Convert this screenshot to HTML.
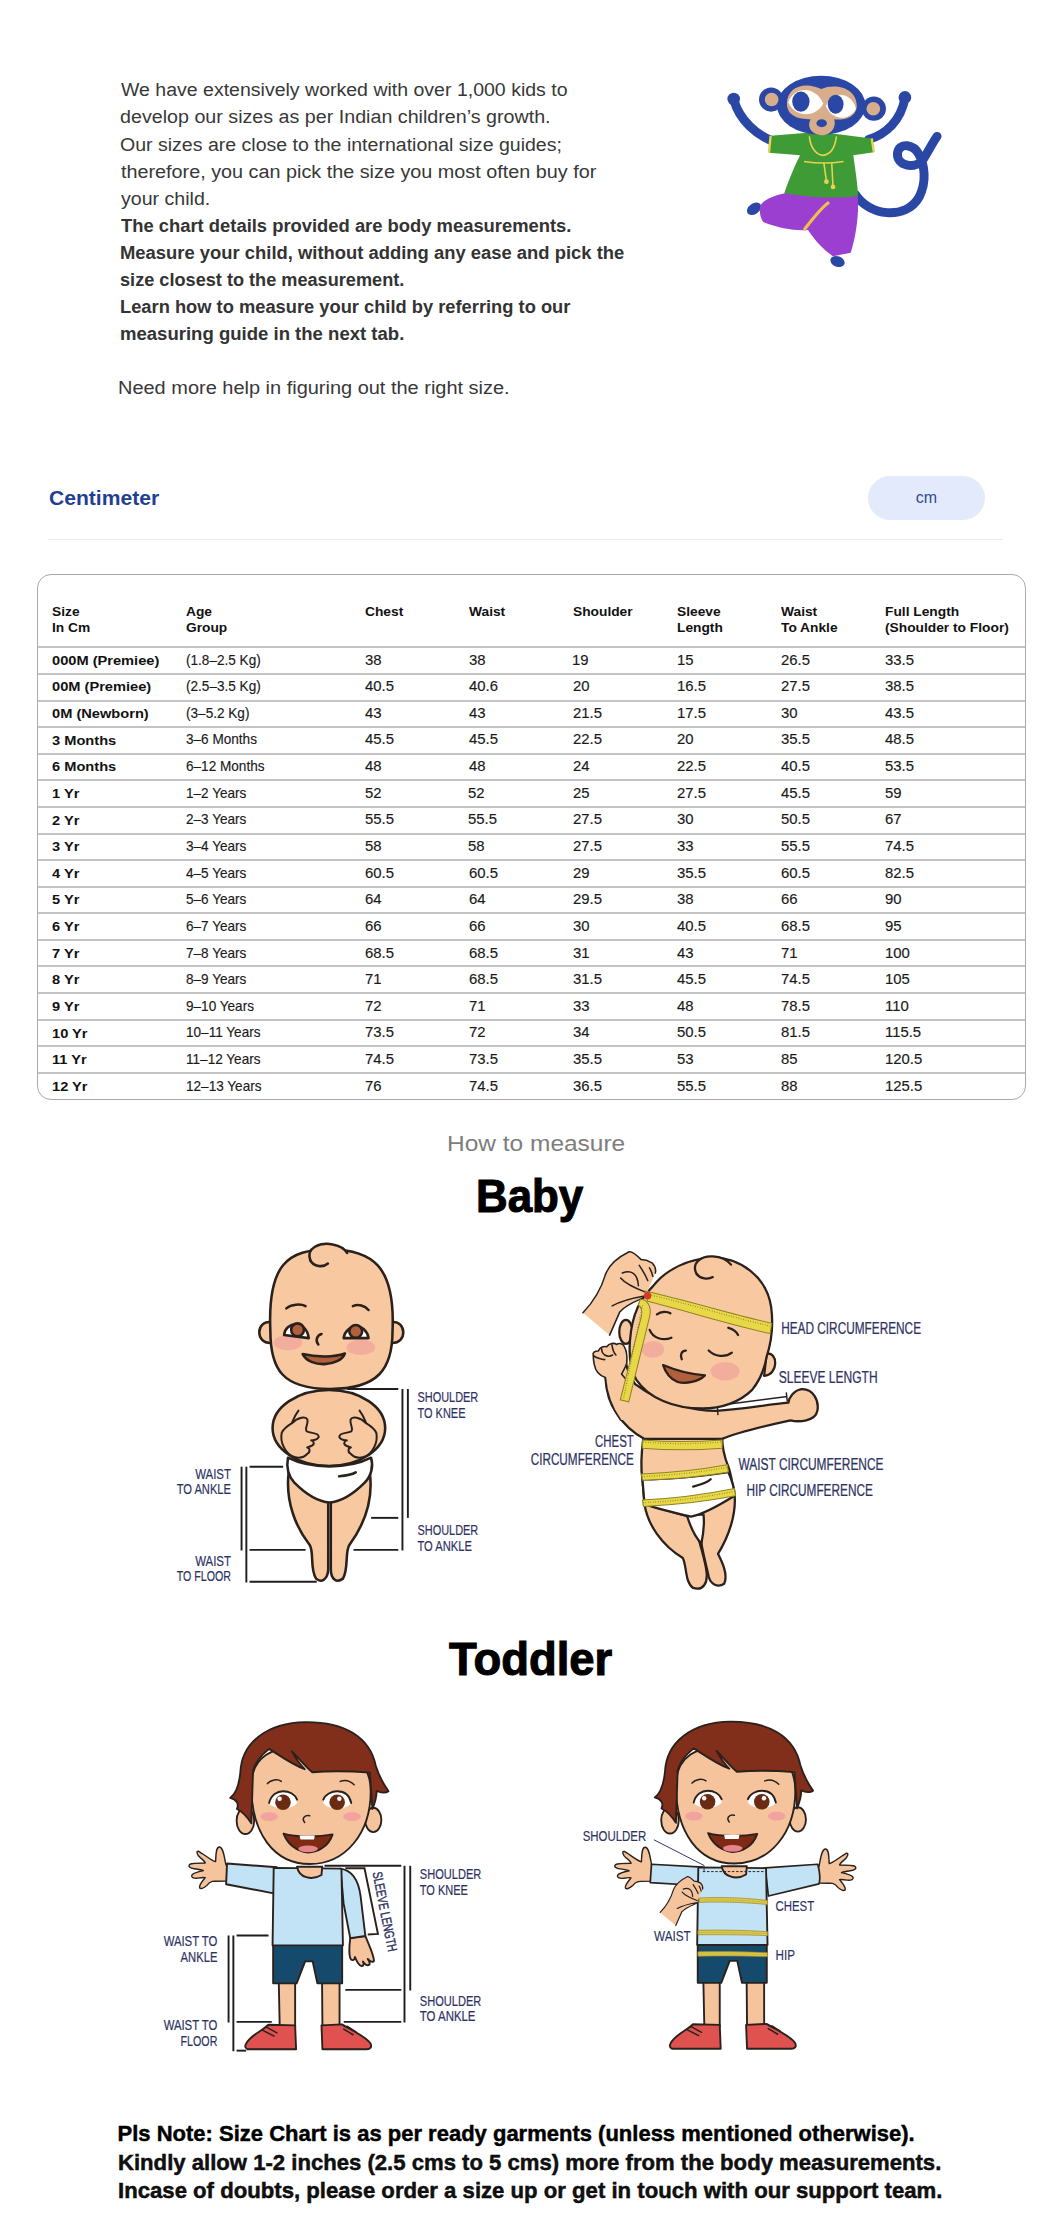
<!DOCTYPE html>
<html><head><meta charset="utf-8">
<style>
*{margin:0;padding:0;box-sizing:border-box}
html,body{width:1063px;height:2225px;background:#fff;overflow:hidden}
body{position:relative;font-family:"Liberation Sans",sans-serif;color:#3b3b3b}
.x{position:absolute;line-height:1;white-space:nowrap;transform-origin:0 0}
#pill{position:absolute;left:868px;top:476px;width:117px;height:44px;border-radius:22px;background:#e3eafb;color:#2f4a8f;font-size:16px;line-height:43px;text-align:center}
#sep{position:absolute;left:48px;top:538.5px;width:955px;height:1px;background:#ebebeb}
#tbl{position:absolute;left:36.8px;top:573.6px;width:989.2px;height:526px;border:1.7px solid #a9a9a9;border-radius:14px}
.rl{position:absolute;left:38px;width:987px;height:2px;background:#c4c4c4}
svg{position:absolute;left:0;top:0}
</style></head><body>
<div id="pill">cm</div><div id="sep"></div><div id="tbl"></div><div class="rl" style="top:645.70px"></div><div class="rl" style="top:673.08px"></div><div class="rl" style="top:699.66px"></div><div class="rl" style="top:726.24px"></div><div class="rl" style="top:752.82px"></div><div class="rl" style="top:779.40px"></div><div class="rl" style="top:805.98px"></div><div class="rl" style="top:832.56px"></div><div class="rl" style="top:859.14px"></div><div class="rl" style="top:885.72px"></div><div class="rl" style="top:912.30px"></div><div class="rl" style="top:938.88px"></div><div class="rl" style="top:965.46px"></div><div class="rl" style="top:992.04px"></div><div class="rl" style="top:1018.62px"></div><div class="rl" style="top:1045.20px"></div><div class="rl" style="top:1071.78px"></div>
<div class="x" id="t0" style="left:120.62px;top:81.36px;font-size:18px;color:#383838;transform:scaleX(1.0842);">We have extensively worked with over 1,000 kids to</div>
<div class="x" id="t1" style="left:119.53px;top:108.46px;font-size:18px;color:#383838;transform:scaleX(1.0931);">develop our sizes as per Indian children’s growth.</div>
<div class="x" id="t2" style="left:119.54px;top:135.56px;font-size:18px;color:#383838;transform:scaleX(1.0852);">Our sizes are close to the international size guides;</div>
<div class="x" id="t3" style="left:120.63px;top:162.66px;font-size:18px;color:#383838;transform:scaleX(1.0995);">therefore, you can pick the size you most often buy for</div>
<div class="x" id="t4" style="left:120.62px;top:189.76px;font-size:18px;color:#383838;transform:scaleX(1.0877);">your child.</div>
<div class="x" id="t5" style="left:120.60px;top:216.86px;font-size:18px;color:#333;font-weight:bold;transform:scaleX(1.0211);">The chart details provided are body measurements.</div>
<div class="x" id="t6" style="left:119.58px;top:243.96px;font-size:18px;color:#333;font-weight:bold;transform:scaleX(1.0226);">Measure your child, without adding any ease and pick the</div>
<div class="x" id="t7" style="left:119.59px;top:271.06px;font-size:18px;color:#333;font-weight:bold;transform:scaleX(1.0079);">size closest to the measurement.</div>
<div class="x" id="t8" style="left:119.59px;top:298.16px;font-size:18px;color:#333;font-weight:bold;transform:scaleX(1.0165);">Learn how to measure your child by referring to our</div>
<div class="x" id="t9" style="left:119.58px;top:325.26px;font-size:18px;color:#333;font-weight:bold;transform:scaleX(1.0299);">measuring guide in the next tab.</div>
<div class="x" id="t10" style="left:118.41px;top:379.36px;font-size:18px;color:#383838;transform:scaleX(1.1089);">Need more help in figuring out the right size.</div>
<div class="x" id="t11" style="left:48.55px;top:487.82px;font-size:20.3px;color:#1f3f95;font-weight:bold;transform:scaleX(1.0400);">Centimeter</div>
<div class="x" id="t12" style="left:447.20px;top:1132.48px;font-size:22.7px;color:#7d7d7d;transform:scaleX(1.0790);">How to measure</div>
<div class="x" id="t13" style="left:476.33px;top:1172.65px;font-size:46.6px;color:#000;font-weight:bold;-webkit-text-stroke:1.1px #000;transform:scaleX(0.9414);">Baby</div>
<div class="x" id="t14" style="left:449.40px;top:1635.01px;font-size:47px;color:#000;font-weight:bold;-webkit-text-stroke:1.1px #000;transform:scaleX(0.9667);">Toddler</div>
<div class="x" id="t15" style="left:117.59px;top:2123.38px;font-size:22px;color:#000;font-weight:bold;-webkit-text-stroke:0.45px #000;">Pls Note: Size Chart is as per ready garments (unless mentioned otherwise).</div>
<div class="x" id="t16" style="left:117.59px;top:2151.58px;font-size:22px;color:#111;font-weight:bold;-webkit-text-stroke:0.45px #000;transform:scaleX(1.0051);">Kindly allow 1-2 inches (2.5 cms to 5 cms) more from the body measurements.</div>
<div class="x" id="t17" style="left:117.59px;top:2179.78px;font-size:22px;color:#111;font-weight:bold;-webkit-text-stroke:0.45px #000;transform:scaleX(1.0066);">Incase of doubts, please order a size up or get in touch with our support team.</div>
<div class="x" id="t18" style="left:52.19px;top:604.90px;font-size:13.7px;color:#111;font-weight:bold;transform:scaleX(1.0053);">Size</div>
<div class="x" id="t19" style="left:52.19px;top:621.10px;font-size:13.7px;color:#111;font-weight:bold;transform:scaleX(1.0053);">In Cm</div>
<div class="x" id="t20" style="left:186.00px;top:604.90px;font-size:13.7px;color:#111;font-weight:bold;transform:scaleX(1.0053);">Age</div>
<div class="x" id="t21" style="left:186.00px;top:621.10px;font-size:13.7px;color:#111;font-weight:bold;transform:scaleX(1.0053);">Group</div>
<div class="x" id="t22" style="left:364.79px;top:604.90px;font-size:13.7px;color:#111;font-weight:bold;transform:scaleX(1.0053);">Chest</div>
<div class="x" id="t23" style="left:469.39px;top:604.90px;font-size:13.7px;color:#111;font-weight:bold;transform:scaleX(1.0053);">Waist</div>
<div class="x" id="t24" style="left:573.39px;top:604.90px;font-size:13.7px;color:#111;font-weight:bold;transform:scaleX(1.0053);">Shoulder</div>
<div class="x" id="t25" style="left:677.19px;top:604.90px;font-size:13.7px;color:#111;font-weight:bold;transform:scaleX(1.0053);">Sleeve</div>
<div class="x" id="t26" style="left:677.19px;top:621.10px;font-size:13.7px;color:#111;font-weight:bold;transform:scaleX(1.0053);">Length</div>
<div class="x" id="t27" style="left:781.00px;top:604.90px;font-size:13.7px;color:#111;font-weight:bold;transform:scaleX(1.0053);">Waist</div>
<div class="x" id="t28" style="left:781.00px;top:621.10px;font-size:13.7px;color:#111;font-weight:bold;transform:scaleX(1.0053);">To Ankle</div>
<div class="x" id="t29" style="left:885.00px;top:604.90px;font-size:13.7px;color:#111;font-weight:bold;transform:scaleX(1.0053);">Full Length</div>
<div class="x" id="t30" style="left:885.00px;top:621.10px;font-size:13.7px;color:#111;font-weight:bold;transform:scaleX(1.0053);">(Shoulder to Floor)</div>
<div class="x" id="t31" style="left:52.14px;top:653.70px;font-size:13px;color:#111;font-weight:bold;transform:scaleX(1.1253);">000M (Premiee)</div>
<div class="x" id="t32" style="left:186.03px;top:652.51px;font-size:14.4px;color:#1a1a1a;-webkit-text-stroke:0.15px #1a1a1a;transform:scaleX(0.9436);">(1.8–2.5 Kg)</div>
<div class="x" id="t33" style="left:364.77px;top:652.51px;font-size:14.4px;color:#1a1a1a;-webkit-text-stroke:0.15px #1a1a1a;transform:scaleX(1.0342);">38</div>
<div class="x" id="t34" style="left:469.38px;top:652.51px;font-size:14.4px;color:#1a1a1a;-webkit-text-stroke:0.15px #1a1a1a;transform:scaleX(1.0342);">38</div>
<div class="x" id="t35" style="left:572.34px;top:652.51px;font-size:14.4px;color:#1a1a1a;-webkit-text-stroke:0.15px #1a1a1a;transform:scaleX(1.0342);">19</div>
<div class="x" id="t36" style="left:677.18px;top:652.51px;font-size:14.4px;color:#1a1a1a;-webkit-text-stroke:0.15px #1a1a1a;transform:scaleX(1.0342);">15</div>
<div class="x" id="t37" style="left:780.98px;top:652.51px;font-size:14.4px;color:#1a1a1a;-webkit-text-stroke:0.15px #1a1a1a;transform:scaleX(1.0342);">26.5</div>
<div class="x" id="t38" style="left:884.98px;top:652.51px;font-size:14.4px;color:#1a1a1a;-webkit-text-stroke:0.15px #1a1a1a;transform:scaleX(1.0342);">33.5</div>
<div class="x" id="t39" style="left:52.14px;top:680.34px;font-size:13px;color:#111;font-weight:bold;transform:scaleX(1.1253);">00M (Premiee)</div>
<div class="x" id="t40" style="left:186.03px;top:679.15px;font-size:14.4px;color:#1a1a1a;-webkit-text-stroke:0.15px #1a1a1a;transform:scaleX(0.9436);">(2.5–3.5 Kg)</div>
<div class="x" id="t41" style="left:364.77px;top:679.15px;font-size:14.4px;color:#1a1a1a;-webkit-text-stroke:0.15px #1a1a1a;transform:scaleX(1.0342);">40.5</div>
<div class="x" id="t42" style="left:469.38px;top:679.15px;font-size:14.4px;color:#1a1a1a;-webkit-text-stroke:0.15px #1a1a1a;transform:scaleX(1.0342);">40.6</div>
<div class="x" id="t43" style="left:573.38px;top:679.15px;font-size:14.4px;color:#1a1a1a;-webkit-text-stroke:0.15px #1a1a1a;transform:scaleX(1.0342);">20</div>
<div class="x" id="t44" style="left:677.18px;top:679.15px;font-size:14.4px;color:#1a1a1a;-webkit-text-stroke:0.15px #1a1a1a;transform:scaleX(1.0342);">16.5</div>
<div class="x" id="t45" style="left:780.98px;top:679.15px;font-size:14.4px;color:#1a1a1a;-webkit-text-stroke:0.15px #1a1a1a;transform:scaleX(1.0342);">27.5</div>
<div class="x" id="t46" style="left:884.98px;top:679.15px;font-size:14.4px;color:#1a1a1a;-webkit-text-stroke:0.15px #1a1a1a;transform:scaleX(1.0342);">38.5</div>
<div class="x" id="t47" style="left:52.14px;top:706.98px;font-size:13px;color:#111;font-weight:bold;transform:scaleX(1.1253);">0M (Newborn)</div>
<div class="x" id="t48" style="left:186.03px;top:705.79px;font-size:14.4px;color:#1a1a1a;-webkit-text-stroke:0.15px #1a1a1a;transform:scaleX(0.9436);">(3–5.2 Kg)</div>
<div class="x" id="t49" style="left:364.77px;top:705.79px;font-size:14.4px;color:#1a1a1a;-webkit-text-stroke:0.15px #1a1a1a;transform:scaleX(1.0342);">43</div>
<div class="x" id="t50" style="left:469.38px;top:705.79px;font-size:14.4px;color:#1a1a1a;-webkit-text-stroke:0.15px #1a1a1a;transform:scaleX(1.0342);">43</div>
<div class="x" id="t51" style="left:573.38px;top:705.79px;font-size:14.4px;color:#1a1a1a;-webkit-text-stroke:0.15px #1a1a1a;transform:scaleX(1.0342);">21.5</div>
<div class="x" id="t52" style="left:677.18px;top:705.79px;font-size:14.4px;color:#1a1a1a;-webkit-text-stroke:0.15px #1a1a1a;transform:scaleX(1.0342);">17.5</div>
<div class="x" id="t53" style="left:780.98px;top:705.79px;font-size:14.4px;color:#1a1a1a;-webkit-text-stroke:0.15px #1a1a1a;transform:scaleX(1.0342);">30</div>
<div class="x" id="t54" style="left:884.98px;top:705.79px;font-size:14.4px;color:#1a1a1a;-webkit-text-stroke:0.15px #1a1a1a;transform:scaleX(1.0342);">43.5</div>
<div class="x" id="t55" style="left:52.14px;top:733.62px;font-size:13px;color:#111;font-weight:bold;transform:scaleX(1.1253);">3 Months</div>
<div class="x" id="t56" style="left:186.03px;top:732.43px;font-size:14.4px;color:#1a1a1a;-webkit-text-stroke:0.15px #1a1a1a;transform:scaleX(0.9436);">3–6 Months</div>
<div class="x" id="t57" style="left:364.77px;top:732.43px;font-size:14.4px;color:#1a1a1a;-webkit-text-stroke:0.15px #1a1a1a;transform:scaleX(1.0342);">45.5</div>
<div class="x" id="t58" style="left:469.38px;top:732.43px;font-size:14.4px;color:#1a1a1a;-webkit-text-stroke:0.15px #1a1a1a;transform:scaleX(1.0342);">45.5</div>
<div class="x" id="t59" style="left:573.38px;top:732.43px;font-size:14.4px;color:#1a1a1a;-webkit-text-stroke:0.15px #1a1a1a;transform:scaleX(1.0342);">22.5</div>
<div class="x" id="t60" style="left:677.18px;top:732.43px;font-size:14.4px;color:#1a1a1a;-webkit-text-stroke:0.15px #1a1a1a;transform:scaleX(1.0342);">20</div>
<div class="x" id="t61" style="left:780.98px;top:732.43px;font-size:14.4px;color:#1a1a1a;-webkit-text-stroke:0.15px #1a1a1a;transform:scaleX(1.0342);">35.5</div>
<div class="x" id="t62" style="left:884.98px;top:732.43px;font-size:14.4px;color:#1a1a1a;-webkit-text-stroke:0.15px #1a1a1a;transform:scaleX(1.0342);">48.5</div>
<div class="x" id="t63" style="left:52.14px;top:760.26px;font-size:13px;color:#111;font-weight:bold;transform:scaleX(1.1253);">6 Months</div>
<div class="x" id="t64" style="left:186.03px;top:759.07px;font-size:14.4px;color:#1a1a1a;-webkit-text-stroke:0.15px #1a1a1a;transform:scaleX(0.9436);">6–12 Months</div>
<div class="x" id="t65" style="left:364.77px;top:759.07px;font-size:14.4px;color:#1a1a1a;-webkit-text-stroke:0.15px #1a1a1a;transform:scaleX(1.0342);">48</div>
<div class="x" id="t66" style="left:469.38px;top:759.07px;font-size:14.4px;color:#1a1a1a;-webkit-text-stroke:0.15px #1a1a1a;transform:scaleX(1.0342);">48</div>
<div class="x" id="t67" style="left:573.38px;top:759.07px;font-size:14.4px;color:#1a1a1a;-webkit-text-stroke:0.15px #1a1a1a;transform:scaleX(1.0342);">24</div>
<div class="x" id="t68" style="left:677.18px;top:759.07px;font-size:14.4px;color:#1a1a1a;-webkit-text-stroke:0.15px #1a1a1a;transform:scaleX(1.0342);">22.5</div>
<div class="x" id="t69" style="left:780.98px;top:759.07px;font-size:14.4px;color:#1a1a1a;-webkit-text-stroke:0.15px #1a1a1a;transform:scaleX(1.0342);">40.5</div>
<div class="x" id="t70" style="left:884.98px;top:759.07px;font-size:14.4px;color:#1a1a1a;-webkit-text-stroke:0.15px #1a1a1a;transform:scaleX(1.0342);">53.5</div>
<div class="x" id="t71" style="left:52.14px;top:786.90px;font-size:13px;color:#111;font-weight:bold;transform:scaleX(1.1253);">1 Yr</div>
<div class="x" id="t72" style="left:186.03px;top:785.71px;font-size:14.4px;color:#1a1a1a;-webkit-text-stroke:0.15px #1a1a1a;transform:scaleX(0.9436);">1–2 Years</div>
<div class="x" id="t73" style="left:364.77px;top:785.71px;font-size:14.4px;color:#1a1a1a;-webkit-text-stroke:0.15px #1a1a1a;transform:scaleX(1.0342);">52</div>
<div class="x" id="t74" style="left:468.34px;top:785.71px;font-size:14.4px;color:#1a1a1a;-webkit-text-stroke:0.15px #1a1a1a;transform:scaleX(1.0342);">52</div>
<div class="x" id="t75" style="left:573.38px;top:785.71px;font-size:14.4px;color:#1a1a1a;-webkit-text-stroke:0.15px #1a1a1a;transform:scaleX(1.0342);">25</div>
<div class="x" id="t76" style="left:677.18px;top:785.71px;font-size:14.4px;color:#1a1a1a;-webkit-text-stroke:0.15px #1a1a1a;transform:scaleX(1.0342);">27.5</div>
<div class="x" id="t77" style="left:780.98px;top:785.71px;font-size:14.4px;color:#1a1a1a;-webkit-text-stroke:0.15px #1a1a1a;transform:scaleX(1.0342);">45.5</div>
<div class="x" id="t78" style="left:884.98px;top:785.71px;font-size:14.4px;color:#1a1a1a;-webkit-text-stroke:0.15px #1a1a1a;transform:scaleX(1.0342);">59</div>
<div class="x" id="t79" style="left:52.14px;top:813.54px;font-size:13px;color:#111;font-weight:bold;transform:scaleX(1.1253);">2 Yr</div>
<div class="x" id="t80" style="left:186.03px;top:812.35px;font-size:14.4px;color:#1a1a1a;-webkit-text-stroke:0.15px #1a1a1a;transform:scaleX(0.9436);">2–3 Years</div>
<div class="x" id="t81" style="left:364.77px;top:812.35px;font-size:14.4px;color:#1a1a1a;-webkit-text-stroke:0.15px #1a1a1a;transform:scaleX(1.0342);">55.5</div>
<div class="x" id="t82" style="left:468.34px;top:812.35px;font-size:14.4px;color:#1a1a1a;-webkit-text-stroke:0.15px #1a1a1a;transform:scaleX(1.0342);">55.5</div>
<div class="x" id="t83" style="left:573.38px;top:812.35px;font-size:14.4px;color:#1a1a1a;-webkit-text-stroke:0.15px #1a1a1a;transform:scaleX(1.0342);">27.5</div>
<div class="x" id="t84" style="left:677.18px;top:812.35px;font-size:14.4px;color:#1a1a1a;-webkit-text-stroke:0.15px #1a1a1a;transform:scaleX(1.0342);">30</div>
<div class="x" id="t85" style="left:780.98px;top:812.35px;font-size:14.4px;color:#1a1a1a;-webkit-text-stroke:0.15px #1a1a1a;transform:scaleX(1.0342);">50.5</div>
<div class="x" id="t86" style="left:884.98px;top:812.35px;font-size:14.4px;color:#1a1a1a;-webkit-text-stroke:0.15px #1a1a1a;transform:scaleX(1.0342);">67</div>
<div class="x" id="t87" style="left:52.14px;top:840.18px;font-size:13px;color:#111;font-weight:bold;transform:scaleX(1.1253);">3 Yr</div>
<div class="x" id="t88" style="left:186.03px;top:838.99px;font-size:14.4px;color:#1a1a1a;-webkit-text-stroke:0.15px #1a1a1a;transform:scaleX(0.9436);">3–4 Years</div>
<div class="x" id="t89" style="left:364.77px;top:838.99px;font-size:14.4px;color:#1a1a1a;-webkit-text-stroke:0.15px #1a1a1a;transform:scaleX(1.0342);">58</div>
<div class="x" id="t90" style="left:468.34px;top:838.99px;font-size:14.4px;color:#1a1a1a;-webkit-text-stroke:0.15px #1a1a1a;transform:scaleX(1.0342);">58</div>
<div class="x" id="t91" style="left:573.38px;top:838.99px;font-size:14.4px;color:#1a1a1a;-webkit-text-stroke:0.15px #1a1a1a;transform:scaleX(1.0342);">27.5</div>
<div class="x" id="t92" style="left:677.18px;top:838.99px;font-size:14.4px;color:#1a1a1a;-webkit-text-stroke:0.15px #1a1a1a;transform:scaleX(1.0342);">33</div>
<div class="x" id="t93" style="left:780.98px;top:838.99px;font-size:14.4px;color:#1a1a1a;-webkit-text-stroke:0.15px #1a1a1a;transform:scaleX(1.0342);">55.5</div>
<div class="x" id="t94" style="left:884.98px;top:838.99px;font-size:14.4px;color:#1a1a1a;-webkit-text-stroke:0.15px #1a1a1a;transform:scaleX(1.0342);">74.5</div>
<div class="x" id="t95" style="left:52.14px;top:866.82px;font-size:13px;color:#111;font-weight:bold;transform:scaleX(1.1253);">4 Yr</div>
<div class="x" id="t96" style="left:186.03px;top:865.63px;font-size:14.4px;color:#1a1a1a;-webkit-text-stroke:0.15px #1a1a1a;transform:scaleX(0.9436);">4–5 Years</div>
<div class="x" id="t97" style="left:364.77px;top:865.63px;font-size:14.4px;color:#1a1a1a;-webkit-text-stroke:0.15px #1a1a1a;transform:scaleX(1.0342);">60.5</div>
<div class="x" id="t98" style="left:469.38px;top:865.63px;font-size:14.4px;color:#1a1a1a;-webkit-text-stroke:0.15px #1a1a1a;transform:scaleX(1.0342);">60.5</div>
<div class="x" id="t99" style="left:573.38px;top:865.63px;font-size:14.4px;color:#1a1a1a;-webkit-text-stroke:0.15px #1a1a1a;transform:scaleX(1.0342);">29</div>
<div class="x" id="t100" style="left:677.18px;top:865.63px;font-size:14.4px;color:#1a1a1a;-webkit-text-stroke:0.15px #1a1a1a;transform:scaleX(1.0342);">35.5</div>
<div class="x" id="t101" style="left:780.98px;top:865.63px;font-size:14.4px;color:#1a1a1a;-webkit-text-stroke:0.15px #1a1a1a;transform:scaleX(1.0342);">60.5</div>
<div class="x" id="t102" style="left:884.98px;top:865.63px;font-size:14.4px;color:#1a1a1a;-webkit-text-stroke:0.15px #1a1a1a;transform:scaleX(1.0342);">82.5</div>
<div class="x" id="t103" style="left:52.14px;top:893.46px;font-size:13px;color:#111;font-weight:bold;transform:scaleX(1.1253);">5 Yr</div>
<div class="x" id="t104" style="left:186.03px;top:892.27px;font-size:14.4px;color:#1a1a1a;-webkit-text-stroke:0.15px #1a1a1a;transform:scaleX(0.9436);">5–6 Years</div>
<div class="x" id="t105" style="left:364.77px;top:892.27px;font-size:14.4px;color:#1a1a1a;-webkit-text-stroke:0.15px #1a1a1a;transform:scaleX(1.0342);">64</div>
<div class="x" id="t106" style="left:469.38px;top:892.27px;font-size:14.4px;color:#1a1a1a;-webkit-text-stroke:0.15px #1a1a1a;transform:scaleX(1.0342);">64</div>
<div class="x" id="t107" style="left:573.38px;top:892.27px;font-size:14.4px;color:#1a1a1a;-webkit-text-stroke:0.15px #1a1a1a;transform:scaleX(1.0342);">29.5</div>
<div class="x" id="t108" style="left:677.18px;top:892.27px;font-size:14.4px;color:#1a1a1a;-webkit-text-stroke:0.15px #1a1a1a;transform:scaleX(1.0342);">38</div>
<div class="x" id="t109" style="left:780.98px;top:892.27px;font-size:14.4px;color:#1a1a1a;-webkit-text-stroke:0.15px #1a1a1a;transform:scaleX(1.0342);">66</div>
<div class="x" id="t110" style="left:884.98px;top:892.27px;font-size:14.4px;color:#1a1a1a;-webkit-text-stroke:0.15px #1a1a1a;transform:scaleX(1.0342);">90</div>
<div class="x" id="t111" style="left:52.14px;top:920.10px;font-size:13px;color:#111;font-weight:bold;transform:scaleX(1.1253);">6 Yr</div>
<div class="x" id="t112" style="left:186.03px;top:918.91px;font-size:14.4px;color:#1a1a1a;-webkit-text-stroke:0.15px #1a1a1a;transform:scaleX(0.9436);">6–7 Years</div>
<div class="x" id="t113" style="left:364.77px;top:918.91px;font-size:14.4px;color:#1a1a1a;-webkit-text-stroke:0.15px #1a1a1a;transform:scaleX(1.0342);">66</div>
<div class="x" id="t114" style="left:469.38px;top:918.91px;font-size:14.4px;color:#1a1a1a;-webkit-text-stroke:0.15px #1a1a1a;transform:scaleX(1.0342);">66</div>
<div class="x" id="t115" style="left:573.38px;top:918.91px;font-size:14.4px;color:#1a1a1a;-webkit-text-stroke:0.15px #1a1a1a;transform:scaleX(1.0342);">30</div>
<div class="x" id="t116" style="left:677.18px;top:918.91px;font-size:14.4px;color:#1a1a1a;-webkit-text-stroke:0.15px #1a1a1a;transform:scaleX(1.0342);">40.5</div>
<div class="x" id="t117" style="left:780.98px;top:918.91px;font-size:14.4px;color:#1a1a1a;-webkit-text-stroke:0.15px #1a1a1a;transform:scaleX(1.0342);">68.5</div>
<div class="x" id="t118" style="left:884.98px;top:918.91px;font-size:14.4px;color:#1a1a1a;-webkit-text-stroke:0.15px #1a1a1a;transform:scaleX(1.0342);">95</div>
<div class="x" id="t119" style="left:52.14px;top:946.74px;font-size:13px;color:#111;font-weight:bold;transform:scaleX(1.1253);">7 Yr</div>
<div class="x" id="t120" style="left:186.03px;top:945.55px;font-size:14.4px;color:#1a1a1a;-webkit-text-stroke:0.15px #1a1a1a;transform:scaleX(0.9436);">7–8 Years</div>
<div class="x" id="t121" style="left:364.77px;top:945.55px;font-size:14.4px;color:#1a1a1a;-webkit-text-stroke:0.15px #1a1a1a;transform:scaleX(1.0342);">68.5</div>
<div class="x" id="t122" style="left:469.38px;top:945.55px;font-size:14.4px;color:#1a1a1a;-webkit-text-stroke:0.15px #1a1a1a;transform:scaleX(1.0342);">68.5</div>
<div class="x" id="t123" style="left:573.38px;top:945.55px;font-size:14.4px;color:#1a1a1a;-webkit-text-stroke:0.15px #1a1a1a;transform:scaleX(1.0342);">31</div>
<div class="x" id="t124" style="left:677.18px;top:945.55px;font-size:14.4px;color:#1a1a1a;-webkit-text-stroke:0.15px #1a1a1a;transform:scaleX(1.0342);">43</div>
<div class="x" id="t125" style="left:780.98px;top:945.55px;font-size:14.4px;color:#1a1a1a;-webkit-text-stroke:0.15px #1a1a1a;transform:scaleX(1.0342);">71</div>
<div class="x" id="t126" style="left:884.98px;top:945.55px;font-size:14.4px;color:#1a1a1a;-webkit-text-stroke:0.15px #1a1a1a;transform:scaleX(1.0342);">100</div>
<div class="x" id="t127" style="left:52.14px;top:973.38px;font-size:13px;color:#111;font-weight:bold;transform:scaleX(1.1253);">8 Yr</div>
<div class="x" id="t128" style="left:186.03px;top:972.19px;font-size:14.4px;color:#1a1a1a;-webkit-text-stroke:0.15px #1a1a1a;transform:scaleX(0.9436);">8–9 Years</div>
<div class="x" id="t129" style="left:364.77px;top:972.19px;font-size:14.4px;color:#1a1a1a;-webkit-text-stroke:0.15px #1a1a1a;transform:scaleX(1.0342);">71</div>
<div class="x" id="t130" style="left:469.38px;top:972.19px;font-size:14.4px;color:#1a1a1a;-webkit-text-stroke:0.15px #1a1a1a;transform:scaleX(1.0342);">68.5</div>
<div class="x" id="t131" style="left:573.38px;top:972.19px;font-size:14.4px;color:#1a1a1a;-webkit-text-stroke:0.15px #1a1a1a;transform:scaleX(1.0342);">31.5</div>
<div class="x" id="t132" style="left:677.18px;top:972.19px;font-size:14.4px;color:#1a1a1a;-webkit-text-stroke:0.15px #1a1a1a;transform:scaleX(1.0342);">45.5</div>
<div class="x" id="t133" style="left:780.98px;top:972.19px;font-size:14.4px;color:#1a1a1a;-webkit-text-stroke:0.15px #1a1a1a;transform:scaleX(1.0342);">74.5</div>
<div class="x" id="t134" style="left:884.98px;top:972.19px;font-size:14.4px;color:#1a1a1a;-webkit-text-stroke:0.15px #1a1a1a;transform:scaleX(1.0342);">105</div>
<div class="x" id="t135" style="left:52.14px;top:1000.02px;font-size:13px;color:#111;font-weight:bold;transform:scaleX(1.1253);">9 Yr</div>
<div class="x" id="t136" style="left:186.03px;top:998.83px;font-size:14.4px;color:#1a1a1a;-webkit-text-stroke:0.15px #1a1a1a;transform:scaleX(0.9436);">9–10 Years</div>
<div class="x" id="t137" style="left:364.77px;top:998.83px;font-size:14.4px;color:#1a1a1a;-webkit-text-stroke:0.15px #1a1a1a;transform:scaleX(1.0342);">72</div>
<div class="x" id="t138" style="left:469.38px;top:998.83px;font-size:14.4px;color:#1a1a1a;-webkit-text-stroke:0.15px #1a1a1a;transform:scaleX(1.0342);">71</div>
<div class="x" id="t139" style="left:573.38px;top:998.83px;font-size:14.4px;color:#1a1a1a;-webkit-text-stroke:0.15px #1a1a1a;transform:scaleX(1.0342);">33</div>
<div class="x" id="t140" style="left:677.18px;top:998.83px;font-size:14.4px;color:#1a1a1a;-webkit-text-stroke:0.15px #1a1a1a;transform:scaleX(1.0342);">48</div>
<div class="x" id="t141" style="left:780.98px;top:998.83px;font-size:14.4px;color:#1a1a1a;-webkit-text-stroke:0.15px #1a1a1a;transform:scaleX(1.0342);">78.5</div>
<div class="x" id="t142" style="left:884.98px;top:998.83px;font-size:14.4px;color:#1a1a1a;-webkit-text-stroke:0.15px #1a1a1a;transform:scaleX(1.0342);">110</div>
<div class="x" id="t143" style="left:52.14px;top:1026.66px;font-size:13px;color:#111;font-weight:bold;transform:scaleX(1.1253);">10 Yr</div>
<div class="x" id="t144" style="left:186.03px;top:1025.47px;font-size:14.4px;color:#1a1a1a;-webkit-text-stroke:0.15px #1a1a1a;transform:scaleX(0.9436);">10–11 Years</div>
<div class="x" id="t145" style="left:364.77px;top:1025.47px;font-size:14.4px;color:#1a1a1a;-webkit-text-stroke:0.15px #1a1a1a;transform:scaleX(1.0342);">73.5</div>
<div class="x" id="t146" style="left:469.38px;top:1025.47px;font-size:14.4px;color:#1a1a1a;-webkit-text-stroke:0.15px #1a1a1a;transform:scaleX(1.0342);">72</div>
<div class="x" id="t147" style="left:573.38px;top:1025.47px;font-size:14.4px;color:#1a1a1a;-webkit-text-stroke:0.15px #1a1a1a;transform:scaleX(1.0342);">34</div>
<div class="x" id="t148" style="left:677.18px;top:1025.47px;font-size:14.4px;color:#1a1a1a;-webkit-text-stroke:0.15px #1a1a1a;transform:scaleX(1.0342);">50.5</div>
<div class="x" id="t149" style="left:780.98px;top:1025.47px;font-size:14.4px;color:#1a1a1a;-webkit-text-stroke:0.15px #1a1a1a;transform:scaleX(1.0342);">81.5</div>
<div class="x" id="t150" style="left:884.98px;top:1025.47px;font-size:14.4px;color:#1a1a1a;-webkit-text-stroke:0.15px #1a1a1a;transform:scaleX(1.0342);">115.5</div>
<div class="x" id="t151" style="left:52.14px;top:1053.30px;font-size:13px;color:#111;font-weight:bold;transform:scaleX(1.1253);">11 Yr</div>
<div class="x" id="t152" style="left:186.03px;top:1052.11px;font-size:14.4px;color:#1a1a1a;-webkit-text-stroke:0.15px #1a1a1a;transform:scaleX(0.9436);">11–12 Years</div>
<div class="x" id="t153" style="left:364.77px;top:1052.11px;font-size:14.4px;color:#1a1a1a;-webkit-text-stroke:0.15px #1a1a1a;transform:scaleX(1.0342);">74.5</div>
<div class="x" id="t154" style="left:469.38px;top:1052.11px;font-size:14.4px;color:#1a1a1a;-webkit-text-stroke:0.15px #1a1a1a;transform:scaleX(1.0342);">73.5</div>
<div class="x" id="t155" style="left:573.38px;top:1052.11px;font-size:14.4px;color:#1a1a1a;-webkit-text-stroke:0.15px #1a1a1a;transform:scaleX(1.0342);">35.5</div>
<div class="x" id="t156" style="left:677.18px;top:1052.11px;font-size:14.4px;color:#1a1a1a;-webkit-text-stroke:0.15px #1a1a1a;transform:scaleX(1.0342);">53</div>
<div class="x" id="t157" style="left:780.98px;top:1052.11px;font-size:14.4px;color:#1a1a1a;-webkit-text-stroke:0.15px #1a1a1a;transform:scaleX(1.0342);">85</div>
<div class="x" id="t158" style="left:884.98px;top:1052.11px;font-size:14.4px;color:#1a1a1a;-webkit-text-stroke:0.15px #1a1a1a;transform:scaleX(1.0342);">120.5</div>
<div class="x" id="t159" style="left:52.14px;top:1079.94px;font-size:13px;color:#111;font-weight:bold;transform:scaleX(1.1253);">12 Yr</div>
<div class="x" id="t160" style="left:186.03px;top:1078.75px;font-size:14.4px;color:#1a1a1a;-webkit-text-stroke:0.15px #1a1a1a;transform:scaleX(0.9436);">12–13 Years</div>
<div class="x" id="t161" style="left:364.77px;top:1078.75px;font-size:14.4px;color:#1a1a1a;-webkit-text-stroke:0.15px #1a1a1a;transform:scaleX(1.0342);">76</div>
<div class="x" id="t162" style="left:469.38px;top:1078.75px;font-size:14.4px;color:#1a1a1a;-webkit-text-stroke:0.15px #1a1a1a;transform:scaleX(1.0342);">74.5</div>
<div class="x" id="t163" style="left:573.38px;top:1078.75px;font-size:14.4px;color:#1a1a1a;-webkit-text-stroke:0.15px #1a1a1a;transform:scaleX(1.0342);">36.5</div>
<div class="x" id="t164" style="left:677.18px;top:1078.75px;font-size:14.4px;color:#1a1a1a;-webkit-text-stroke:0.15px #1a1a1a;transform:scaleX(1.0342);">55.5</div>
<div class="x" id="t165" style="left:780.98px;top:1078.75px;font-size:14.4px;color:#1a1a1a;-webkit-text-stroke:0.15px #1a1a1a;transform:scaleX(1.0342);">88</div>
<div class="x" id="t166" style="left:884.98px;top:1078.75px;font-size:14.4px;color:#1a1a1a;-webkit-text-stroke:0.15px #1a1a1a;transform:scaleX(1.0342);">125.5</div>
<svg width="1063" height="2225" viewBox="0 0 1063 2225" style="position:absolute;left:0;top:0" font-family="Liberation Sans, sans-serif"><g transform="translate(160,1230) scale(0.319849)"><path d="M402,760 C392,850 425,930 468,985 C482,1005 468,1060 488,1090 C505,1105 525,1092 526,1060 L526,845 Z" fill="#f8c9a0" stroke="#2a211d" stroke-width="8" stroke-linejoin="round" stroke-linecap="round"/><path d="M656,760 C668,850 632,930 592,985 C578,1005 590,1060 572,1090 C552,1105 534,1092 534,1060 L534,845 Z" fill="#f8c9a0" stroke="#2a211d" stroke-width="8" stroke-linejoin="round" stroke-linecap="round"/><ellipse cx="528" cy="619" rx="176" ry="119" fill="#f8c9a0" stroke="#2a211d" stroke-width="8" stroke-linejoin="round" stroke-linecap="round"/><path d="M400,712 C470,748 590,748 660,712 C668,740 660,770 640,790 C600,830 560,850 530,852 C500,850 460,830 420,790 C400,768 395,740 400,712 Z" fill="#fff" stroke="#2a211d" stroke-width="8" stroke-linejoin="round" stroke-linecap="round"/><path d="M560,770 C585,768 600,765 612,758" fill="none" stroke="#2a211d" stroke-width="8" stroke-linejoin="round" stroke-linecap="round"/><path d="M347,288 C300,282 296,356 348,353 Z" fill="#f8c9a0" stroke="#2a211d" stroke-width="8" stroke-linejoin="round" stroke-linecap="round"/><path d="M724,288 C771,282 775,356 723,353 Z" fill="#f8c9a0" stroke="#2a211d" stroke-width="8" stroke-linejoin="round" stroke-linecap="round"/><path d="M345,315 C336,105 400,62 530,60 C662,62 736,110 727,315 C727,435 682,497 532,497 C382,497 345,435 345,315 Z" fill="#f8c9a0" stroke="#2a211d" stroke-width="8" stroke-linejoin="round" stroke-linecap="round"/><path d="M470,95 C455,55 500,38 540,45 C565,50 580,62 585,72" fill="#f8c9a0" stroke="#2a211d" stroke-width="8" stroke-linejoin="round" stroke-linecap="round"/><path d="M470,95 C480,115 510,118 525,105" fill="none" stroke="#2a211d" stroke-width="8" stroke-linejoin="round" stroke-linecap="round"/><ellipse cx="400" cy="352" rx="45" ry="24" fill="#f2ad9c"/><ellipse cx="628" cy="367" rx="45" ry="24" fill="#f2ad9c"/><path d="M395,245 C410,232 440,230 455,238" fill="none" stroke="#2a211d" stroke-width="8" stroke-linejoin="round" stroke-linecap="round"/><path d="M603,238 C620,230 640,236 652,250" fill="none" stroke="#2a211d" stroke-width="8" stroke-linejoin="round" stroke-linecap="round"/><path d="M388,328 C392,285 458,280 465,338 Z" fill="#fff" stroke="#2a211d" stroke-width="8" stroke-linejoin="round" stroke-linecap="round"/><circle cx="430" cy="312" r="20" fill="#b1603c" stroke="#2a211d" stroke-width="8" stroke-linejoin="round" stroke-linecap="round"/><path d="M574,338 C582,290 645,290 652,338 Z" fill="#fff" stroke="#2a211d" stroke-width="8" stroke-linejoin="round" stroke-linecap="round"/><circle cx="612" cy="317" r="20" fill="#b1603c" stroke="#2a211d" stroke-width="8" stroke-linejoin="round" stroke-linecap="round"/><path d="M505,325 C490,330 485,345 495,358" fill="none" stroke="#2a211d" stroke-width="8" stroke-linejoin="round" stroke-linecap="round"/><path d="M446,388 C490,398 545,398 578,386 C562,428 468,432 446,388 Z" fill="#b1603c" stroke="#2a211d" stroke-width="8" stroke-linejoin="round" stroke-linecap="round"/><line x1="585" y1="497" x2="745" y2="497" stroke="#1f1d1f" stroke-width="6"/><line x1="758" y1="497" x2="758" y2="1002" stroke="#1f1d1f" stroke-width="6"/><line x1="775" y1="497" x2="775" y2="900" stroke="#1f1d1f" stroke-width="6"/><line x1="660" y1="900" x2="745" y2="900" stroke="#1f1d1f" stroke-width="6"/><line x1="605" y1="1000" x2="745" y2="1000" stroke="#1f1d1f" stroke-width="6"/><line x1="255" y1="740" x2="255" y2="1002" stroke="#1f1d1f" stroke-width="6"/><line x1="270" y1="740" x2="270" y2="1102" stroke="#1f1d1f" stroke-width="6"/><line x1="280" y1="740" x2="385" y2="740" stroke="#1f1d1f" stroke-width="6"/><line x1="280" y1="1000" x2="455" y2="1000" stroke="#1f1d1f" stroke-width="6"/><line x1="280" y1="1100" x2="490" y2="1100" stroke="#1f1d1f" stroke-width="6"/><text x="805" y="538" font-size="48" textLength="190" lengthAdjust="spacingAndGlyphs" fill="#2e3262" stroke="#2e3262" stroke-width="0.6">SHOULDER</text><text x="805" y="587" font-size="48" textLength="150" lengthAdjust="spacingAndGlyphs" fill="#2e3262" stroke="#2e3262" stroke-width="0.6">TO KNEE</text><text x="805" y="955" font-size="48" textLength="190" lengthAdjust="spacingAndGlyphs" fill="#2e3262" stroke="#2e3262" stroke-width="0.6">SHOULDER</text><text x="805" y="1003" font-size="48" textLength="170" lengthAdjust="spacingAndGlyphs" fill="#2e3262" stroke="#2e3262" stroke-width="0.6">TO ANKLE</text><text x="110" y="777" font-size="48" textLength="112" lengthAdjust="spacingAndGlyphs" fill="#2e3262" stroke="#2e3262" stroke-width="0.6">WAIST</text><text x="52" y="826" font-size="48" textLength="170" lengthAdjust="spacingAndGlyphs" fill="#2e3262" stroke="#2e3262" stroke-width="0.6">TO ANKLE</text><text x="110" y="1050" font-size="48" textLength="112" lengthAdjust="spacingAndGlyphs" fill="#2e3262" stroke="#2e3262" stroke-width="0.6">WAIST</text><text x="52" y="1098" font-size="48" textLength="170" lengthAdjust="spacingAndGlyphs" fill="#2e3262" stroke="#2e3262" stroke-width="0.6">TO FLOOR</text></g>
<g transform="translate(260,1380) scale(0.131703)"><path d="M165,400 C150,470 190,560 262,585 C300,595 335,588 360,560 C385,545 378,515 358,512 C380,505 420,495 405,470 C398,455 385,458 390,460 C420,455 450,445 445,425 C440,400 385,405 355,390 C335,370 370,330 360,300 C348,275 290,280 240,330 C215,345 185,365 165,400 Z" fill="#f8c9a0" stroke="#2a211d" stroke-width="15" stroke-linejoin="round" stroke-linecap="round"/><path d="M245,320 C262,275 278,250 292,232" fill="none" stroke="#2a211d" stroke-width="15" stroke-linejoin="round" stroke-linecap="round"/><g transform="translate(1048,0) scale(-1,1)"><path d="M165,400 C150,470 190,560 262,585 C300,595 335,588 360,560 C385,545 378,515 358,512 C380,505 420,495 405,470 C398,455 385,458 390,460 C420,455 450,445 445,425 C440,400 385,405 355,390 C335,370 370,330 360,300 C348,275 290,280 240,330 C215,345 185,365 165,400 Z" fill="#f8c9a0" stroke="#2a211d" stroke-width="15" stroke-linejoin="round" stroke-linecap="round"/><path d="M245,320 C262,275 278,250 292,232" fill="none" stroke="#2a211d" stroke-width="15" stroke-linejoin="round" stroke-linecap="round"/></g></g>
<g transform="translate(570,1245) scale(0.206961)"><g transform="translate(145,652)"><path d="M215,600 C230,700 300,800 400,860 C420,900 410,980 450,1005 C500,1020 520,980 515,930 C510,880 490,820 480,780 L430,660 Z" fill="#f8c9a0" stroke="#2a211d" stroke-width="11" stroke-linejoin="round" stroke-linecap="round"/><path d="M650,550 C660,650 620,760 570,840 C590,880 620,940 600,985 C570,1005 535,990 525,950 C515,900 500,850 490,790 L470,650 Z" fill="#f8c9a0" stroke="#2a211d" stroke-width="11" stroke-linejoin="round" stroke-linecap="round"/><path d="M420,655 C440,720 470,770 490,790 C500,740 505,690 500,650 Z" fill="#fff" stroke="#2a211d" stroke-width="11" stroke-linejoin="round" stroke-linecap="round"/><path d="M210,275 C200,350 195,420 205,480 L215,600 L650,560 C640,500 630,440 620,420 C600,370 590,320 590,275 Z" fill="#f8c9a0" stroke="#2a211d" stroke-width="11" stroke-linejoin="round" stroke-linecap="round"/><path d="M26,-12 C30,60 50,120 80,160 C115,215 165,258 215,285 L590,285 C650,260 760,230 920,195 C960,205 1040,200 1050,150 C1060,100 1030,40 970,45 C940,50 915,80 910,110 C800,120 700,140 560,150 C480,150 300,120 170,20 C150,-10 130,-50 125,-85 L40,-90 Z" fill="#f8c9a0" stroke="#2a211d" stroke-width="11" stroke-linejoin="round" stroke-linecap="round"/><path d="M205,480 C330,480 480,465 620,445 C640,490 650,530 650,560 C570,610 500,650 440,660 C350,640 270,620 215,600 Z" fill="#fff" stroke="#2a211d" stroke-width="11" stroke-linejoin="round" stroke-linecap="round"/><path d="M450,515 C490,505 520,495 535,480" fill="none" stroke="#2a211d" stroke-width="11" stroke-linejoin="round" stroke-linecap="round"/><path d="M205,290 C330,300 460,300 590,290 L590,330 C460,340 330,340 205,330 Z" fill="#e8d848" stroke="#8f8424" stroke-width="5"/><path d="M200,455 C330,450 480,435 615,410 L620,445 C480,470 330,480 205,485 Z" fill="#e8d848" stroke="#8f8424" stroke-width="5"/><path d="M205,580 C350,575 500,555 650,525 L655,560 C500,590 350,605 210,612 Z" fill="#e8d848" stroke="#8f8424" stroke-width="5"/><path d="M208,300 C330,310 460,310 588,300 M203,467 C330,462 480,447 617,422 M208,593 C350,588 500,568 652,538" fill="none" stroke="#7a7020" stroke-width="6" stroke-dasharray="3,9"/><path d="M560,125 L905,80 M565,100 L570,170 M900,60 L905,105" fill="none" stroke="#2a211d" stroke-width="7"/></g><g transform="translate(72.48,410.7) scale(0.3181)"><path d="M125,385 C110,340 150,320 200,320 C230,260 290,240 330,255 C370,200 440,190 480,220 C520,195 580,200 600,260 C630,310 640,420 635,500 C620,560 580,620 555,670 C600,720 640,760 700,850 L700,1367 L540,1367 C420,1200 330,1000 310,720 C230,700 160,640 140,520 C130,470 125,420 125,385 Z" fill="#f8c9a0"/><path d="M540,1367 C420,1200 330,1000 310,720 C230,700 160,640 140,520 C130,470 125,420 125,385 C110,340 150,320 200,320 C230,260 290,240 330,255 C370,200 440,190 480,220 C520,195 580,200 600,260 C630,310 640,420 635,500 C620,560 580,620 555,670 C600,720 640,760 700,850 M125,385 C160,420 250,450 300,450 M255,290 C250,360 330,430 420,380 M410,230 C420,300 450,360 470,380" fill="none" stroke="#2a211d" stroke-width="24" stroke-linecap="round" stroke-linejoin="round"/></g><ellipse cx="270" cy="420" rx="32" ry="58" fill="#f8c9a0" stroke="#2a211d" stroke-width="11" stroke-linejoin="round" stroke-linecap="round"/><path d="M950,525 C1005,515 1010,625 938,632 Z" fill="#f8c9a0" stroke="#2a211d" stroke-width="11" stroke-linejoin="round" stroke-linecap="round"/><path d="M400,200 C470,110 580,70 680,60 C820,60 950,150 972,300 C985,400 970,480 950,540 C940,600 920,650 880,700 C820,760 730,790 640,790 C500,790 380,740 320,650 C290,600 285,520 290,460 C300,330 340,260 400,200 Z" fill="#f8c9a0" stroke="#2a211d" stroke-width="11" stroke-linejoin="round" stroke-linecap="round"/><path d="M612,140 C585,90 630,52 690,55 C725,57 760,72 778,95" fill="#f8c9a0" stroke="#2a211d" stroke-width="11" stroke-linejoin="round" stroke-linecap="round"/><path d="M612,140 C630,165 668,168 690,155" fill="none" stroke="#2a211d" stroke-width="11" stroke-linejoin="round" stroke-linecap="round"/><ellipse cx="400" cy="505" rx="55" ry="40" fill="#f2ad9c"/><ellipse cx="750" cy="610" rx="70" ry="45" fill="#f2ad9c"/><path d="M420,335 C440,320 470,320 485,330 M765,400 C785,405 805,420 812,435 M385,410 C400,450 450,465 490,448 M670,510 C700,540 750,545 782,520 M560,510 C540,510 530,530 540,552" fill="none" stroke="#2a211d" stroke-width="11" stroke-linejoin="round" stroke-linecap="round"/><path d="M450,580 C520,610 590,625 652,630 C620,662 560,672 520,662 C480,645 460,612 450,580 Z" fill="#b1603c" stroke="#2a211d" stroke-width="11" stroke-linejoin="round" stroke-linecap="round"/><g transform="translate(48.3,0) scale(0.4091)"><path d="M35,800 C150,680 250,520 300,350 C340,240 440,150 580,80 C620,70 680,130 720,170 C760,170 800,180 850,210 C880,240 900,290 890,330 L800,540 L780,610 C700,650 560,690 470,790 L350,1065 Z" fill="#f8c9a0"/><path d="M35,800 C150,680 250,520 300,350 C340,240 440,150 580,80 C620,70 680,130 720,170 C760,170 800,180 850,210 C880,240 900,290 890,330 M780,610 C700,650 560,690 470,790 L350,1065 M380,720 C450,680 600,630 780,600 M480,390 C520,440 600,490 780,560 M500,330 C600,290 680,330 690,480 M700,240 C740,300 780,370 800,420 M820,270 C840,300 850,330 860,370" fill="none" stroke="#2a211d" stroke-width="18" stroke-linecap="round" stroke-linejoin="round"/></g><path d="M362,222 C560,265 780,335 975,378 L967,428 C770,385 560,318 375,272 Z" fill="#e8d848" stroke="#8f8424" stroke-width="5"/><path d="M340,262 C375,262 395,300 385,345 L284,758 L243,748 L345,345 C350,322 345,300 330,290 Z" fill="#e8d848" stroke="#8f8424" stroke-width="5"/><path d="M372,238 C570,282 780,350 970,392 M350,290 L258,745" fill="none" stroke="#7a7020" stroke-width="6" stroke-dasharray="3,9"/><circle cx="375" cy="245" r="18" fill="#d33a2a"/></g>
<g transform="translate(520,1240) scale(0.395108)"><text x="661" y="238" font-size="40" textLength="354" lengthAdjust="spacingAndGlyphs" fill="#2e3262" stroke="#2e3262" stroke-width="0.6">HEAD CIRCUMFERENCE</text><text x="655" y="362" font-size="40" textLength="250" lengthAdjust="spacingAndGlyphs" fill="#2e3262" stroke="#2e3262" stroke-width="0.6">SLEEVE LENGTH</text><text x="190" y="525" font-size="40" textLength="98" lengthAdjust="spacingAndGlyphs" fill="#2e3262" stroke="#2e3262" stroke-width="0.6">CHEST</text><text x="27" y="570" font-size="40" textLength="261" lengthAdjust="spacingAndGlyphs" fill="#2e3262" stroke="#2e3262" stroke-width="0.6">CIRCUMFERENCE</text><text x="553" y="582" font-size="40" textLength="367" lengthAdjust="spacingAndGlyphs" fill="#2e3262" stroke="#2e3262" stroke-width="0.6">WAIST CIRCUMFERENCE</text><text x="573" y="648" font-size="40" textLength="320" lengthAdjust="spacingAndGlyphs" fill="#2e3262" stroke="#2e3262" stroke-width="0.6">HIP CIRCUMFERENCE</text></g>
<g transform="translate(185,1840) scale(0.047037)"><path d="M870,530 C840,400 820,150 730,150 C650,150 660,350 650,460 C560,440 400,300 290,240 C230,220 250,320 330,380 C380,420 420,460 430,490 C300,490 150,490 100,520 C60,560 100,600 200,610 C280,620 360,630 390,650 C300,670 180,700 150,740 C120,790 180,820 270,810 C330,800 400,790 430,800 C380,860 300,950 310,1010 C320,1050 400,1030 460,970 C500,920 540,890 580,880 C700,870 800,870 900,870 L900,530 Z" fill="#f5c39c" stroke="#2a211d" stroke-width="30" stroke-linejoin="round"/></g>
<g transform="translate(610.8,1840.2) scale(0.047037)"><path d="M870,530 C840,400 820,150 730,150 C650,150 660,350 650,460 C560,440 400,300 290,240 C230,220 250,320 330,380 C380,420 420,460 430,490 C300,490 150,490 100,520 C60,560 100,600 200,610 C280,620 360,630 390,650 C300,670 180,700 150,740 C120,790 180,820 270,810 C330,800 400,790 430,800 C380,860 300,950 310,1010 C320,1050 400,1030 460,970 C500,920 540,890 580,880 C700,870 800,870 900,870 L900,530 Z" fill="#f5c39c" stroke="#2a211d" stroke-width="30" stroke-linejoin="round"/></g>
<g transform="translate(1470.6,0) scale(-1,1)"><g transform="translate(610.8,1842) scale(0.047037)"><path d="M870,530 C840,400 820,150 730,150 C650,150 660,350 650,460 C560,440 400,300 290,240 C230,220 250,320 330,380 C380,420 420,460 430,490 C300,490 150,490 100,520 C60,560 100,600 200,610 C280,620 360,630 390,650 C300,670 180,700 150,740 C120,790 180,820 270,810 C330,800 400,790 430,800 C380,860 300,950 310,1010 C320,1050 400,1030 460,970 C500,920 540,890 580,880 C700,870 800,870 900,870 L900,530 Z" fill="#f5c39c" stroke="#2a211d" stroke-width="30" stroke-linejoin="round"/></g></g>
<g transform="translate(180,1840) scale(0.188147)"><path d="M250,125 L515,145 L505,285 L245,235 Z" fill="#c2e2f5" stroke="#2a211d" stroke-width="10" stroke-linejoin="round" stroke-linecap="round"/><path d="M905,520 C900,560 895,600 905,628 C912,645 928,640 930,622 C938,642 952,668 966,670 C978,670 978,656 972,646 C982,664 997,670 1007,662 C1012,652 1004,642 998,632 C1012,648 1026,652 1031,642 C1031,612 1006,562 985,510 Z" fill="#f5c39c" stroke="#2a211d" stroke-width="10" stroke-linejoin="round" stroke-linecap="round"/><path d="M850,152 C920,160 950,220 960,300 L985,510 L905,522 L870,340 C865,300 860,200 850,152 Z" fill="#c2e2f5" stroke="#2a211d" stroke-width="10" stroke-linejoin="round" stroke-linecap="round"/></g>
<g transform="translate(180,1840) scale(0.188147)"><path d="M525,755 L530,995 L612,995 L612,755 Z M755,755 L757,995 L848,995 L848,755 Z" fill="#f5c39c" stroke="#2a211d" stroke-width="10" stroke-linejoin="round" stroke-linecap="round"/><path d="M350,1085 C370,1040 440,1012 470,982 L612,985 L617,1112 L358,1112 C345,1105 345,1095 350,1085 Z" fill="#e0524f" stroke="#2a211d" stroke-width="10" stroke-linejoin="round" stroke-linecap="round"/><path d="M752,985 L860,980 C892,1000 982,1040 1012,1080 C1022,1100 1012,1112 992,1112 L757,1112 Z" fill="#e0524f" stroke="#2a211d" stroke-width="10" stroke-linejoin="round" stroke-linecap="round"/><path d="M440,1012 L500,1042 M460,995 L515,1025 M870,1005 L920,1035 M890,990 L935,1020" fill="none" stroke="#2a211d" stroke-width="8" stroke-linejoin="round" stroke-linecap="round"/><path d="M495,558 L862,558 L862,762 L730,762 L705,645 L665,645 L620,762 L495,762 Z" fill="#164a6c" stroke="#2a211d" stroke-width="10" stroke-linejoin="round" stroke-linecap="round"/><path d="M498,148 L858,152 L866,560 L492,560 Z" fill="#c2e2f5" stroke="#2a211d" stroke-width="10" stroke-linejoin="round" stroke-linecap="round"/><path d="M622,142 C632,200 700,218 752,186 L756,142 Z" fill="#f5c39c" stroke="#2a211d" stroke-width="10" stroke-linejoin="round" stroke-linecap="round"/></g>
<g transform="translate(220,1715) scale(0.169332)"><ellipse cx="150" cy="625" rx="52" ry="78" fill="#f5c39c" stroke="#2a211d" stroke-width="11" stroke-linejoin="round" stroke-linecap="round"/><ellipse cx="905" cy="620" rx="48" ry="72" fill="#f5c39c" stroke="#2a211d" stroke-width="11" stroke-linejoin="round" stroke-linecap="round"/><path d="M185,420 C185,250 300,180 530,180 C760,180 890,260 890,450 C890,700 740,880 530,880 C320,880 185,700 185,420 Z" fill="#f5c39c" stroke="#2a211d" stroke-width="11" stroke-linejoin="round" stroke-linecap="round"/><path d="M60,490 C95,465 112,420 120,340 C128,160 280,46 505,42 C735,40 885,130 920,300 C935,350 960,400 995,450 C970,468 945,455 925,448 C925,490 915,520 900,555 L885,340 C760,330 640,330 545,338 C500,300 470,260 425,215 C455,270 480,300 500,320 C420,290 340,230 290,200 C240,240 205,290 195,330 L185,640 C160,600 130,570 100,555 C115,520 95,500 60,490 Z" fill="#812e1a" stroke="#2a211d" stroke-width="11" stroke-linejoin="round" stroke-linecap="round"/><ellipse cx="290" cy="600" rx="52" ry="26" fill="#f2a3a0"/><ellipse cx="780" cy="600" rx="52" ry="26" fill="#f2a3a0"/><path d="M290,520 C300,470 340,450 372,450 C410,450 445,470 455,520 C430,560 320,565 290,520 Z" fill="#fff" stroke="#fff"/><path d="M610,520 C620,470 660,450 692,450 C730,450 765,470 775,520 C750,560 640,565 610,520 Z" fill="#fff" stroke="#fff"/><path d="M290,520 C300,470 340,450 372,450 C410,450 445,470 455,500 M610,500 C620,470 660,450 692,450 C730,450 765,470 775,520" fill="none" stroke="#2a211d" stroke-width="11" stroke-linejoin="round" stroke-linecap="round"/><circle cx="372" cy="515" r="46" fill="#6b2b12"/><circle cx="692" cy="515" r="46" fill="#6b2b12"/><circle cx="352" cy="495" r="13" fill="#fff"/><circle cx="705" cy="495" r="13" fill="#fff"/><path d="M280,405 C300,382 340,375 362,392 M710,392 C740,380 772,392 792,412 M530,595 C500,590 480,610 500,635" fill="none" stroke="#2a211d" stroke-width="9" stroke-linejoin="round" stroke-linecap="round"/><path d="M375,700 C450,722 580,722 665,705 C640,782 570,812 520,812 C450,802 400,762 375,700 Z" fill="#7e2a15" stroke="#2a211d" stroke-width="11" stroke-linejoin="round" stroke-linecap="round"/><path d="M470,712 L560,712 L555,735 L475,735 Z" fill="#fff"/><ellipse cx="520" cy="790" rx="58" ry="20" fill="#e8858a"/></g>
<g transform="translate(424.6,-0.5)"><g transform="translate(180.4,1830.5) scale(0.244591)"><path d="M190,140 L400,152 L395,228 L185,215 Z" fill="#c2e2f5" stroke="#2a211d" stroke-width="7" stroke-linejoin="round" stroke-linecap="round"/><path d="M655,155 L870,140 C880,180 880,205 875,220 L668,270 Z" fill="#c2e2f5" stroke="#2a211d" stroke-width="7" stroke-linejoin="round" stroke-linecap="round"/></g><g transform="translate(180,1840) scale(0.188147)"><path d="M525,755 L530,995 L612,995 L612,755 Z M755,755 L757,995 L848,995 L848,755 Z" fill="#f5c39c" stroke="#2a211d" stroke-width="10" stroke-linejoin="round" stroke-linecap="round"/><path d="M350,1085 C370,1040 440,1012 470,982 L612,985 L617,1112 L358,1112 C345,1105 345,1095 350,1085 Z" fill="#e0524f" stroke="#2a211d" stroke-width="10" stroke-linejoin="round" stroke-linecap="round"/><path d="M752,985 L860,980 C892,1000 982,1040 1012,1080 C1022,1100 1012,1112 992,1112 L757,1112 Z" fill="#e0524f" stroke="#2a211d" stroke-width="10" stroke-linejoin="round" stroke-linecap="round"/><path d="M440,1012 L500,1042 M460,995 L515,1025 M870,1005 L920,1035 M890,990 L935,1020" fill="none" stroke="#2a211d" stroke-width="8" stroke-linejoin="round" stroke-linecap="round"/><path d="M495,558 L862,558 L862,762 L730,762 L705,645 L665,645 L620,762 L495,762 Z" fill="#164a6c" stroke="#2a211d" stroke-width="10" stroke-linejoin="round" stroke-linecap="round"/><path d="M498,148 L858,152 L866,560 L492,560 Z" fill="#c2e2f5" stroke="#2a211d" stroke-width="10" stroke-linejoin="round" stroke-linecap="round"/><path d="M622,142 C632,200 700,218 752,186 L756,142 Z" fill="#f5c39c" stroke="#2a211d" stroke-width="10" stroke-linejoin="round" stroke-linecap="round"/></g><g transform="translate(220,1715) scale(0.169332)"><ellipse cx="150" cy="625" rx="52" ry="78" fill="#f5c39c" stroke="#2a211d" stroke-width="11" stroke-linejoin="round" stroke-linecap="round"/><ellipse cx="905" cy="620" rx="48" ry="72" fill="#f5c39c" stroke="#2a211d" stroke-width="11" stroke-linejoin="round" stroke-linecap="round"/><path d="M185,420 C185,250 300,180 530,180 C760,180 890,260 890,450 C890,700 740,880 530,880 C320,880 185,700 185,420 Z" fill="#f5c39c" stroke="#2a211d" stroke-width="11" stroke-linejoin="round" stroke-linecap="round"/><path d="M60,490 C95,465 112,420 120,340 C128,160 280,46 505,42 C735,40 885,130 920,300 C935,350 960,400 995,450 C970,468 945,455 925,448 C925,490 915,520 900,555 L885,340 C760,330 640,330 545,338 C500,300 470,260 425,215 C455,270 480,300 500,320 C420,290 340,230 290,200 C240,240 205,290 195,330 L185,640 C160,600 130,570 100,555 C115,520 95,500 60,490 Z" fill="#812e1a" stroke="#2a211d" stroke-width="11" stroke-linejoin="round" stroke-linecap="round"/><ellipse cx="290" cy="600" rx="52" ry="26" fill="#f2a3a0"/><ellipse cx="780" cy="600" rx="52" ry="26" fill="#f2a3a0"/><path d="M290,520 C300,470 340,450 372,450 C410,450 445,470 455,520 C430,560 320,565 290,520 Z" fill="#fff" stroke="#fff"/><path d="M610,520 C620,470 660,450 692,450 C730,450 765,470 775,520 C750,560 640,565 610,520 Z" fill="#fff" stroke="#fff"/><path d="M290,520 C300,470 340,450 372,450 C410,450 445,470 455,500 M610,500 C620,470 660,450 692,450 C730,450 765,470 775,520" fill="none" stroke="#2a211d" stroke-width="11" stroke-linejoin="round" stroke-linecap="round"/><circle cx="372" cy="515" r="46" fill="#6b2b12"/><circle cx="692" cy="515" r="46" fill="#6b2b12"/><circle cx="352" cy="495" r="13" fill="#fff"/><circle cx="705" cy="495" r="13" fill="#fff"/><path d="M280,405 C300,382 340,375 362,392 M710,392 C740,380 772,392 792,412 M530,595 C500,590 480,610 500,635" fill="none" stroke="#2a211d" stroke-width="9" stroke-linejoin="round" stroke-linecap="round"/><path d="M375,700 C450,722 580,722 665,705 C640,782 570,812 520,812 C450,802 400,762 375,700 Z" fill="#7e2a15" stroke="#2a211d" stroke-width="11" stroke-linejoin="round" stroke-linecap="round"/><path d="M470,712 L560,712 L555,735 L475,735 Z" fill="#fff"/><ellipse cx="520" cy="790" rx="58" ry="20" fill="#e8858a"/></g></g>
<g transform="translate(605,1830) scale(0.244591)"><path d="M400,170 L655,170" stroke="#2a211d" stroke-width="4" stroke-dasharray="10,7"/><path d="M200,40 L405,145 L405,170" fill="none" stroke="#2e3262" stroke-width="4"/><path d="M385,278 C480,273 580,278 665,288 L665,305 C580,296 480,292 385,296 Z" fill="#dcc94a" stroke="#9a8a2a" stroke-width="3"/><path d="M380,410 C480,408 580,410 665,416 L665,432 C580,428 480,428 380,428 Z" fill="#dcc94a" stroke="#9a8a2a" stroke-width="3"/><path d="M380,498 C480,496 580,498 665,502 L665,518 C580,515 480,514 380,516 Z" fill="#dcc94a" stroke="#9a8a2a" stroke-width="3"/><path d="M385,287 C480,283 580,288 665,296 M380,419 C480,418 580,420 665,424 M380,507 C480,505 580,507 665,510" fill="none" stroke="#8a7a22" stroke-width="3" stroke-dasharray="2,5"/></g>
<g transform="translate(658.41,1872.69) scale(0.04966)"><path d="M35,800 C150,680 250,520 300,350 C340,240 440,150 580,80 C620,70 680,130 720,170 C760,170 800,180 850,210 C880,240 900,290 890,330 L800,540 L780,610 C700,650 560,690 470,790 L350,1065 Z" fill="#f5c39c"/><path d="M35,800 C150,680 250,520 300,350 C340,240 440,150 580,80 C620,70 680,130 720,170 C760,170 800,180 850,210 C880,240 900,290 890,330 M780,610 C700,650 560,690 470,790 L350,1065 M380,720 C450,680 600,630 780,600 M480,390 C520,440 600,490 780,560 M500,330 C600,290 680,330 690,480 M700,240 C740,300 780,370 800,420 M820,270 C840,300 850,330 860,370" fill="none" stroke="#2a211d" stroke-width="24" stroke-linecap="round" stroke-linejoin="round"/></g>
<g transform="translate(155,1710) scale(0.319849)"><line x1="530" y1="487" x2="770" y2="487" stroke="#1f1d1f" stroke-width="6"/><line x1="780" y1="487" x2="780" y2="977" stroke="#1f1d1f" stroke-width="6"/><line x1="798" y1="487" x2="798" y2="877" stroke="#1f1d1f" stroke-width="6"/><line x1="595" y1="875" x2="770" y2="875" stroke="#1f1d1f" stroke-width="6"/><line x1="590" y1="975" x2="770" y2="975" stroke="#1f1d1f" stroke-width="6"/><line x1="230" y1="705" x2="230" y2="977" stroke="#1f1d1f" stroke-width="6"/><line x1="245" y1="705" x2="245" y2="1067" stroke="#1f1d1f" stroke-width="6"/><line x1="255" y1="705" x2="355" y2="705" stroke="#1f1d1f" stroke-width="6"/><line x1="255" y1="975" x2="365" y2="975" stroke="#1f1d1f" stroke-width="6"/><line x1="255" y1="1065" x2="285" y2="1065" stroke="#1f1d1f" stroke-width="6"/><path d="M595,495 L655,495 L697,700 L665,702" fill="none" stroke="#2a211d" stroke-width="6"/><text x="828" y="527" font-size="44" textLength="192" lengthAdjust="spacingAndGlyphs" fill="#2e3262" stroke="#2e3262" stroke-width="0.6">SHOULDER</text><text x="828" y="577" font-size="44" textLength="150" lengthAdjust="spacingAndGlyphs" fill="#2e3262" stroke="#2e3262" stroke-width="0.6">TO KNEE</text><text x="828" y="925" font-size="44" textLength="192" lengthAdjust="spacingAndGlyphs" fill="#2e3262" stroke="#2e3262" stroke-width="0.6">SHOULDER</text><text x="828" y="973" font-size="44" textLength="174" lengthAdjust="spacingAndGlyphs" fill="#2e3262" stroke="#2e3262" stroke-width="0.6">TO ANKLE</text><text x="27" y="738" font-size="44" textLength="168" lengthAdjust="spacingAndGlyphs" fill="#2e3262" stroke="#2e3262" stroke-width="0.6">WAIST TO</text><text x="80" y="788" font-size="44" textLength="115" lengthAdjust="spacingAndGlyphs" fill="#2e3262" stroke="#2e3262" stroke-width="0.6">ANKLE</text><text x="27" y="1000" font-size="44" textLength="168" lengthAdjust="spacingAndGlyphs" fill="#2e3262" stroke="#2e3262" stroke-width="0.6">WAIST TO</text><text x="80" y="1050" font-size="44" textLength="115" lengthAdjust="spacingAndGlyphs" fill="#2e3262" stroke="#2e3262" stroke-width="0.6">FLOOR</text></g>
<g transform="translate(372.4,1872.8) rotate(78.8)"><text x="0" y="0" font-size="13.5" textLength="81" lengthAdjust="spacingAndGlyphs" fill="#2e3262" stroke="#2e3262" stroke-width="0.4">SLEEVE LENGTH</text></g>
<g transform="translate(570,1710) scale(0.282220)"><text x="45" y="465" font-size="50" textLength="225" lengthAdjust="spacingAndGlyphs" fill="#2e3262" stroke="#2e3262" stroke-width="0.5">SHOULDER</text><text x="728" y="712" font-size="50" textLength="137" lengthAdjust="spacingAndGlyphs" fill="#2e3262" stroke="#2e3262" stroke-width="0.5">CHEST</text><text x="298" y="818" font-size="50" textLength="130" lengthAdjust="spacingAndGlyphs" fill="#2e3262" stroke="#2e3262" stroke-width="0.5">WAIST</text><text x="728" y="885" font-size="50" textLength="69" lengthAdjust="spacingAndGlyphs" fill="#2e3262" stroke="#2e3262" stroke-width="0.5">HIP</text></g>
<g transform="translate(700,60) scale(0.263405)"><path d="M590,510 C640,590 780,612 832,520 C862,460 852,400 832,360 C812,318 758,312 750,352 C742,402 822,422 852,370 C872,338 885,310 900,290" fill="none" stroke="#2b47a6" stroke-width="34" stroke-linecap="round"/><path d="M280,310 C215,285 150,230 128,150" fill="none" stroke="#2b47a6" stroke-width="34" stroke-linecap="round"/><path d="M640,302 C705,282 762,232 778,145" fill="none" stroke="#2b47a6" stroke-width="34" stroke-linecap="round"/><circle cx="128" cy="148" r="24" fill="#2b47a6"/><circle cx="778" cy="142" r="24" fill="#2b47a6"/><ellipse cx="205" cy="565" rx="30" ry="20" transform="rotate(-35 205 565)" fill="#2b47a6"/><ellipse cx="522" cy="765" rx="28" ry="20" transform="rotate(20 522 765)" fill="#2b47a6"/><path d="M325,505 C280,515 240,530 228,555 C225,580 230,600 240,615 C300,640 370,650 410,645 C440,690 470,720 505,745 L572,732 C595,660 605,570 598,505 Z" fill="#9a3fcf"/><path d="M395,645 C430,600 460,560 490,540" fill="none" stroke="#f2c04a" stroke-width="12"/><path d="M268,288 L420,275 L510,280 L652,298 L660,350 L582,362 C590,420 598,470 600,515 C500,530 400,520 320,505 C340,450 360,400 380,362 L262,352 Z" fill="#3f9b35"/><path d="M268,288 L262,352 M652,298 L660,350" fill="none" stroke="#e8d34a" stroke-width="9"/><path d="M415,290 C420,340 445,360 465,362 C490,360 512,340 518,290 M395,385 C440,392 500,392 545,385 M470,390 L480,460 M500,390 L505,480" fill="none" stroke="#e8d34a" stroke-width="6"/><circle cx="480" cy="462" r="9" fill="#e8d34a"/><circle cx="505" cy="482" r="9" fill="#e8d34a"/><circle cx="270" cy="150" r="46" fill="#2b47a6"/><circle cx="660" cy="185" r="46" fill="#2b47a6"/><ellipse cx="460" cy="172" rx="168" ry="112" fill="#2b47a6"/><circle cx="272" cy="150" r="26" fill="#d8ad8c"/><circle cx="658" cy="185" r="26" fill="#d8ad8c"/><path d="M330,165 C330,100 400,80 460,110 C520,85 600,110 595,180 C590,220 540,230 510,225 C520,270 480,290 455,285 C420,280 405,250 420,225 C370,225 330,210 330,165 Z" fill="#d8ad8c"/><path d="M335,160 C360,95 440,100 468,165 C440,220 360,220 335,160 Z" fill="#fff"/><path d="M478,175 C505,115 575,120 592,185 C565,235 500,230 478,175 Z" fill="#fff"/><ellipse cx="383" cy="158" rx="33" ry="38" fill="#2b47a6"/><ellipse cx="515" cy="168" rx="30" ry="36" fill="#2b47a6"/><ellipse cx="462" cy="240" rx="20" ry="15" fill="#2b47a6"/></g></svg>
</body></html>
